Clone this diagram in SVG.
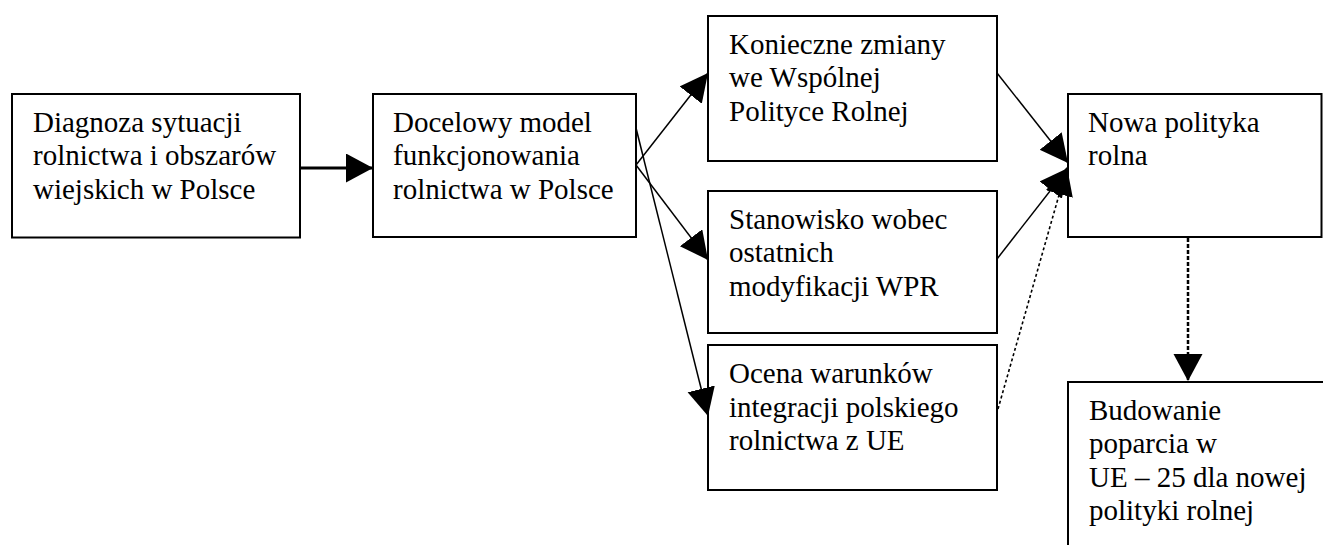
<svg xmlns="http://www.w3.org/2000/svg" width="1323" height="545" viewBox="0 0 1323 545">
<style>
.box{fill:#fff;stroke:#000;stroke-width:2}
.t{font-family:"Liberation Serif","Times New Roman",serif;font-size:29px;fill:#000}
.ln{fill:none;stroke:#000;stroke-width:1.5}
.main{fill:none;stroke:#000;stroke-width:3}
.dot1{fill:none;stroke:#000;stroke-width:1.6;stroke-dasharray:3 2.5}
.dot2{fill:none;stroke:#000;stroke-width:2.5;stroke-dasharray:4 2}
</style>
<defs>
<marker id="big" markerUnits="userSpaceOnUse" markerWidth="28" markerHeight="30" refX="27" refY="14.5" orient="auto" viewBox="0 0 28 30">
<path d="M0,0 L27,14.5 L0,29 z" fill="#000"/>
</marker>
<marker id="arr" markerUnits="userSpaceOnUse" markerWidth="29" markerHeight="29" refX="28" refY="14" orient="auto" viewBox="0 0 29 29">
<path d="M0,0 L28,14 L0,28 z" fill="#000"/>
</marker>
</defs>
<g id="n1">
<rect class="box" x="12" y="94" width="288" height="143.5"/>
<text class="t" x="33" y="131.5">Diagnoza sytuacji</text>
<text class="t" x="33" y="165">rolnictwa i obszarów</text>
<text class="t" x="33" y="198.5">wiejskich w Polsce</text>
</g>
<g id="n2">
<rect class="box" x="373" y="94" width="263" height="143"/>
<text class="t" x="393" y="131.5">Docelowy model</text>
<text class="t" x="393" y="165">funkcjonowania</text>
<text class="t" x="393" y="198.5">rolnictwa w Polsce</text>
</g>
<g id="n3">
<rect class="box" x="708" y="16" width="289" height="145"/>
<text class="t" x="729" y="53.5">Konieczne zmiany</text>
<text class="t" x="729" y="87">we Wspólnej</text>
<text class="t" x="729" y="120.5">Polityce Rolnej</text>
</g>
<g id="n4">
<rect class="box" x="708" y="191" width="289" height="142"/>
<text class="t" x="729" y="228.5">Stanowisko wobec</text>
<text class="t" x="729" y="262">ostatnich</text>
<text class="t" x="729" y="295.5">modyfikacji WPR</text>
</g>
<g id="n5">
<rect class="box" x="708" y="345" width="289" height="145"/>
<text class="t" x="729" y="383">Ocena warunków</text>
<text class="t" x="729" y="416.5">integracji polskiego</text>
<text class="t" x="729" y="450">rolnictwa z UE</text>
</g>
<g id="n6">
<rect class="box" x="1068" y="94" width="253.5" height="143"/>
<text class="t" x="1088" y="131.5">Nowa polityka</text>
<text class="t" x="1088" y="165">rolna</text>
</g>
<g id="n7">
<rect class="box" x="1068" y="382" width="270" height="200"/>
<text class="t" x="1089" y="419.5">Budowanie</text>
<text class="t" x="1089" y="453">poparcia w</text>
<text class="t" x="1089" y="486.5">UE – 25 dla nowej</text>
<text class="t" x="1089" y="520">polityki rolnej</text>
</g>
<g id="connectors">
<line class="main" x1="300" y1="168" x2="373" y2="168" marker-end="url(#big)"/>
<line class="ln" x1="636" y1="165" x2="708" y2="73" marker-end="url(#arr)"/>
<line class="ln" x1="636" y1="165" x2="708" y2="260" marker-end="url(#arr)"/>
<line class="ln" x1="636" y1="128" x2="708" y2="416" marker-end="url(#arr)"/>
<line class="ln" x1="997" y1="73" x2="1068" y2="163" marker-end="url(#arr)"/>
<line class="ln" x1="997" y1="259" x2="1068" y2="168" marker-end="url(#arr)"/>
<line class="dot1" x1="998" y1="409" x2="1067" y2="167" marker-end="url(#arr)"/>
<line class="dot2" x1="1188" y1="238" x2="1188" y2="381" marker-end="url(#big)"/>
</g>
</svg>
